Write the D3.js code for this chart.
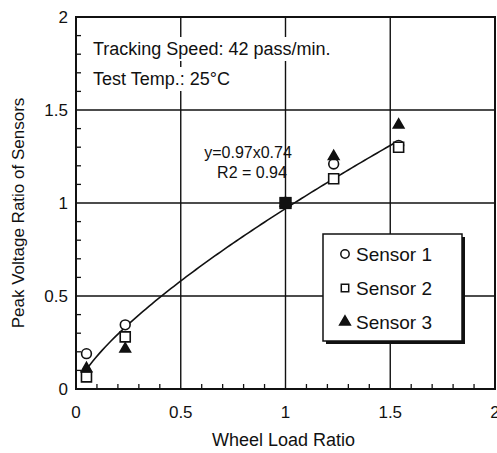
<!DOCTYPE html>
<html>
<head>
<meta charset="utf-8">
<script src="https://cdn.jsdelivr.net/npm/d3@7"></script>
<style>
  body { margin: 0; background: #fff; }
  text { font-family: "Liberation Sans", Arial, sans-serif; fill: #111; }
</style>
</head>
<body>
<svg id="chart" width="497" height="453"></svg>
<script>
// data
const sensor1 = [[0.05, 0.19], [0.235, 0.345], [1.0, 1.0], [1.23, 1.21], [1.54, 1.31]];
const sensor2 = [[0.05, 0.065], [0.235, 0.28], [1.0, 1.0], [1.23, 1.13], [1.54, 1.30]];
const sensor3 = [[0.05, 0.11], [0.235, 0.215], [1.0, 1.0], [1.23, 1.25], [1.54, 1.42]];
const xTicks = [0, 0.5, 1, 1.5, 2];
const yTicks = [0, 0.5, 1, 1.5, 2];
const gridVals = [0.5, 1, 1.5];
// fitted curve shown on the chart: y = 0.97 x^0.74, drawn over x = 0.05 .. 1.54
const fitA = 0.97, fitB = 0.74, fitRange = [0.05, 1.54];

const svg = d3.select("#chart");
const L = 76, R = 495, T = 17, B = 389;
const x = d3.scaleLinear().domain([0, 2]).range([L, R]);
const y = d3.scaleLinear().domain([0, 2]).range([B, T]);

// gridlines
const grid = svg.append("g").attr("stroke", "#111").attr("stroke-width", 1.4);
grid.selectAll(".gx").data(gridVals).join("line")
  .attr("x1", d => x(d)).attr("x2", d => x(d)).attr("y1", T).attr("y2", B);
grid.selectAll(".gy").data(gridVals).join("line")
  .attr("x1", L).attr("x2", R).attr("y1", d => y(d)).attr("y2", d => y(d));

// minor ticks (inside)
const minor = d3.range(1, 20).map(i => i / 10).filter(v => Math.abs(v * 2 - Math.round(v * 2)) > 1e-6);
svg.append("g").attr("stroke", "#111").attr("stroke-width", 1.3)
  .selectAll("line").data(minor).join("line")
  .attr("x1", L).attr("x2", L + 5).attr("y1", d => y(d)).attr("y2", d => y(d));
svg.append("g").attr("stroke", "#111").attr("stroke-width", 1.3)
  .selectAll("line").data(minor).join("line")
  .attr("x1", d => x(d)).attr("x2", d => x(d)).attr("y1", B).attr("y2", B - 5);

// frame
svg.append("rect").attr("x", L).attr("y", T).attr("width", R - L).attr("height", B - T)
  .attr("fill", "none").attr("stroke", "#111").attr("stroke-width", 2);

// text boxes in the top-left (white background hides gridlines)
function boxedText(tx, ty, str, size) {
  const t = svg.append("text").attr("x", tx).attr("y", ty).attr("font-size", size).text(str);
  const bb = t.node().getBBox();
  svg.insert("rect", () => t.node())
    .attr("x", bb.x - 4).attr("y", bb.y - 2).attr("width", bb.width + 8).attr("height", bb.height + 4)
    .attr("fill", "#fff");
  return t;
}
boxedText(93, 55, "Tracking Speed: 42 pass/min.", 18);
boxedText(93, 85, "Test Temp.:  25\u00B0C", 18);

// fitted curve
const fitPts = d3.range(0, 101).map(i => {
  const xv = fitRange[0] + (fitRange[1] - fitRange[0]) * i / 100;
  return [xv, fitA * Math.pow(xv, fitB)];
});
svg.append("path").datum(fitPts)
  .attr("d", d3.line().x(d => x(d[0])).y(d => y(d[1])))
  .attr("fill", "none").attr("stroke", "#111").attr("stroke-width", 1.6);

// equation label
svg.append("text").attr("x", 248).attr("y", 158).attr("text-anchor", "middle").attr("font-size", 16)
  .text("y=0.97x0.74");
svg.append("text").attr("x", 252).attr("y", 178).attr("text-anchor", "middle").attr("font-size", 16)
  .text("R2 = 0.94");

// markers
const circ = d3.symbol().type(d3.symbolCircle).size(75);
const sq = d3.symbol().type(d3.symbolSquare).size(100);
const tri = d3.symbol().type(d3.symbolTriangle).size(48);
function drawSeries(data, sym, filled) {
  svg.append("g").selectAll("path").data(data).join("path")
    .attr("transform", d => `translate(${x(d[0])},${y(d[1])})`)
    .attr("d", sym)
    .attr("fill", filled ? "#111" : "#fff")
    .attr("stroke", "#111").attr("stroke-width", 1.6);
}
drawSeries(sensor1, circ, false);
drawSeries(sensor2, sq, false);
drawSeries(sensor3, tri, true);
// the coincident point at (1,1) reads as a solid square
svg.append("path").attr("transform", `translate(${x(1)},${y(1)})`)
  .attr("d", d3.symbol().type(d3.symbolSquare).size(150)).attr("fill", "#111");

// legend
const lg = svg.append("g");
lg.append("rect").attr("x", 326).attr("y", 237).attr("width", 139).attr("height", 107).attr("fill", "#111");
lg.append("rect").attr("x", 323).attr("y", 234).attr("width", 139).attr("height", 107)
  .attr("fill", "#fff").attr("stroke", "#111").attr("stroke-width", 1.5);
const legendItems = [["Sensor 1", false], ["Sensor 2", false], ["Sensor 3", true]];
const legendSyms = [d3.symbolCircle, d3.symbolSquare, d3.symbolTriangle];
legendItems.forEach((it, i) => {
  const cy = 254 + i * 34;
  lg.append("path").attr("transform", `translate(345,${cy})`)
    .attr("d", d3.symbol().type(legendSyms[i]).size(i === 2 ? 50 : 55))
    .attr("fill", it[1] ? "#111" : "#fff").attr("stroke", "#111").attr("stroke-width", 1.5);
  lg.append("text").attr("x", 356).attr("y", cy + 7).attr("font-size", 19).text(it[0]);
});

// tick labels
svg.append("g").selectAll("text").data(yTicks).join("text")
  .attr("x", 68).attr("y", d => y(d) + 6).attr("text-anchor", "end").attr("font-size", 17)
  .text(d => d3.format("")(d));
svg.append("g").selectAll("text").data(xTicks).join("text")
  .attr("x", d => x(d)).attr("y", 418).attr("text-anchor", "middle").attr("font-size", 17)
  .text(d => d3.format("")(d));

// axis titles
svg.append("text").attr("x", x(1) - 2).attr("y", 446).attr("text-anchor", "middle").attr("font-size", 18)
  .text("Wheel Load Ratio");
svg.append("text").attr("transform", `translate(24,${(T + B) / 2 + 10}) rotate(-90)`)
  .attr("text-anchor", "middle").attr("font-size", 17).text("Peak Voltage Ratio of Sensors");
</script>
</body>
</html>
